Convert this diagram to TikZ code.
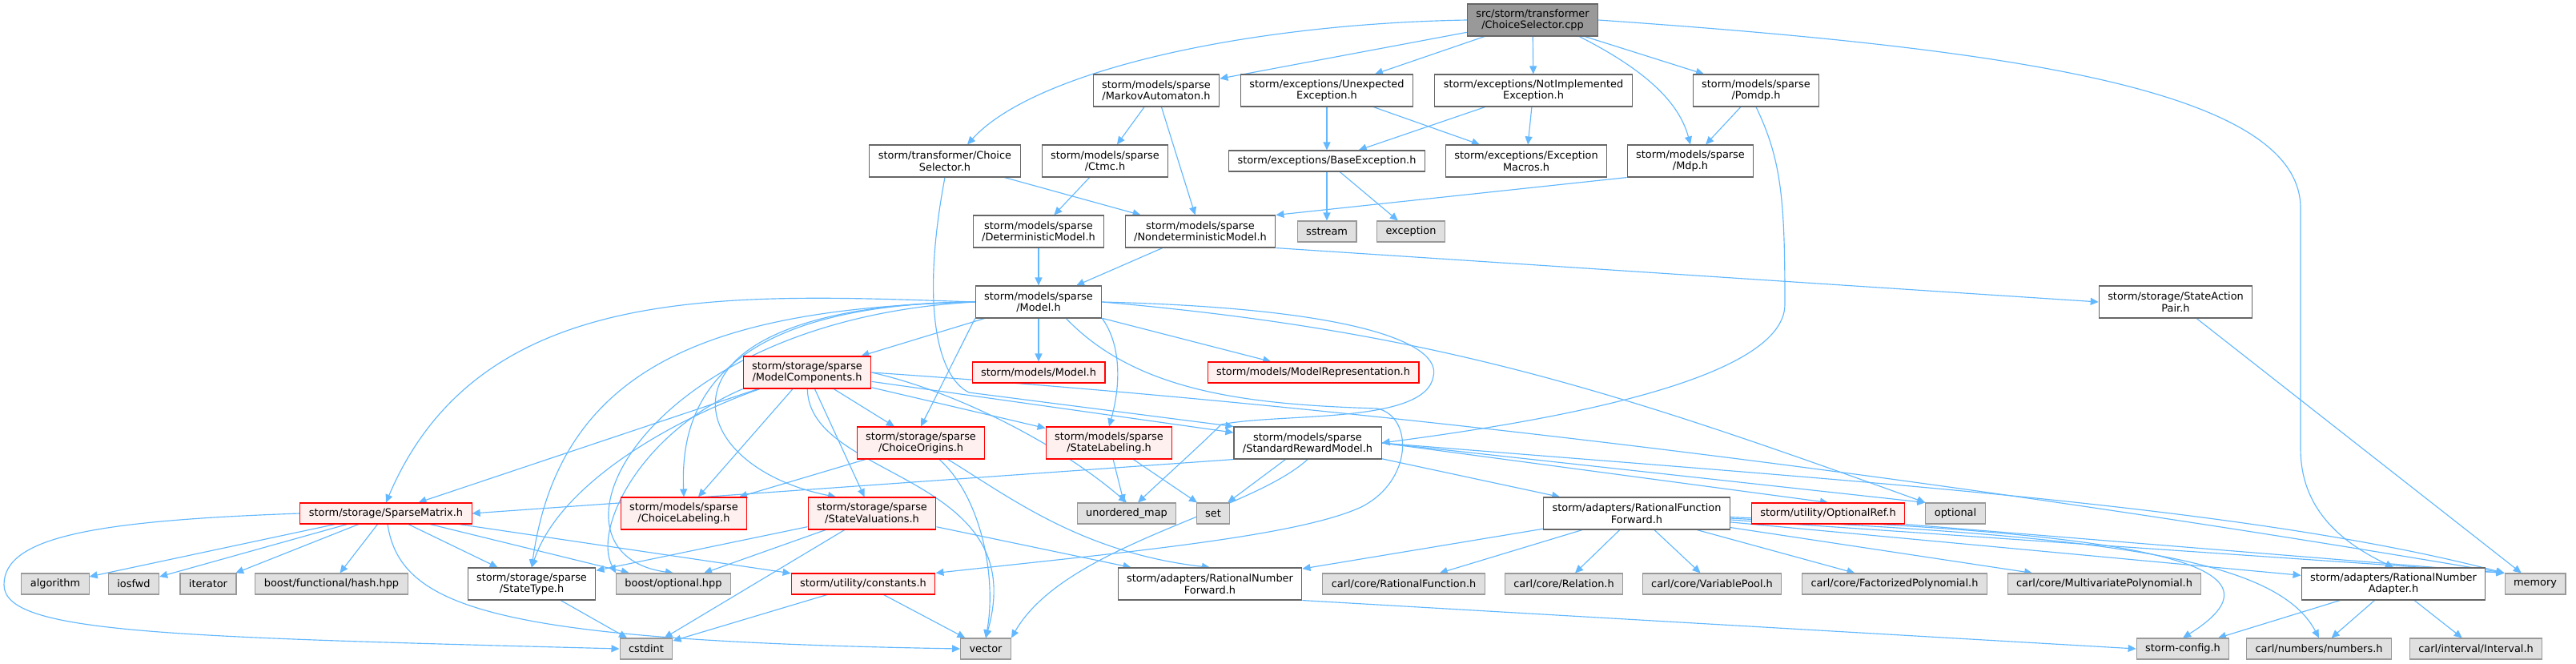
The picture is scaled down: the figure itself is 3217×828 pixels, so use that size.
\documentclass[tikz,border=0pt]{standalone}
\usepackage{fontspec}
\setmainfont{DejaVu Sans}
\usetikzlibrary{arrows.meta,backgrounds}
\definecolor{edgeblue}{HTML}{63B8FF}
\definecolor{boxgray}{HTML}{666666}
\definecolor{sysgray}{HTML}{999999}
\definecolor{sysfill}{HTML}{E0E0E0}
\definecolor{truncfill}{HTML}{FFF0F0}

\begin{document}
\begin{tikzpicture}
    [x=1pt, y=1pt,
    font=\fontsize{12.9}{14.4}\selectfont,
    file/.style={
        draw=boxgray,
        line width=1.1pt,
        fill=white,
        align=center,
        inner xsep=11pt,
        inner ysep=2pt,
        minimum height=26pt
    },
    twoline/.style={minimum height=40pt},
    trunc/.style={file, draw=red, fill=truncfill},
    sysfile/.style={file, draw=sysgray, fill=sysfill},
    rootfile/.style={file, twoline, fill=sysgray},
    line/.style={
        draw=edgeblue, line width=1.15pt, -{Triangle[length=10pt,width=9pt]}
    }
    ]
    \useasboundingbox (0,0) rectangle (3217,-828);

    % source file
    \node[rootfile] (root) at (1914,-25) {src/storm/transformer\\/ChoiceSelector.cpp};

    % project headers
    \node[file, twoline] (ma) at (1444,-113) {storm/models/sparse\\/MarkovAutomaton.h};
    \node[file, twoline] (unexp) at (1657,-113) {storm/exceptions/Unexpected\\Exception.h};
    \node[file, twoline] (notimpl) at (1915,-113) {storm/exceptions/NotImplemented\\Exception.h};
    \node[file, twoline] (pomdp) at (2193,-113) {storm/models/sparse\\/Pomdp.h};
    \node[file, twoline] (csh) at (1180,-201) {storm/transformer/Choice\\Selector.h};
    \node[file, twoline] (ctmc) at (1380,-201) {storm/models/sparse\\/Ctmc.h};
    \node[file] (baseexc) at (1657,-201) {storm/exceptions/BaseException.h};
    \node[file, twoline] (excmacros) at (1906,-201) {storm/exceptions/Exception\\Macros.h};
    \node[file, twoline] (mdp) at (2111,-201) {storm/models/sparse\\/Mdp.h};
    \node[file, twoline] (det) at (1297,-289) {storm/models/sparse\\/DeterministicModel.h};
    \node[file, twoline] (nondet) at (1499,-289) {storm/models/sparse\\/NondeterministicModel.h};
    \node[file, twoline] (model) at (1297,-377) {storm/models/sparse\\/Model.h};
    \node[file, twoline] (sap) at (2717,-377) {storm/storage/StateAction\\Pair.h};
    \node[trunc, twoline] (mcomp) at (1008,-465) {storm/storage/sparse\\/ModelComponents.h};
    \node[trunc] (modelh) at (1297,-465) {storm/models/Model.h};
    \node[trunc] (modelrep) at (1640,-465) {storm/models/ModelRepresentation.h};
    \node[trunc, twoline] (corig) at (1150,-553) {storm/storage/sparse\\/ChoiceOrigins.h};
    \node[trunc, twoline] (slab) at (1385,-553) {storm/models/sparse\\/StateLabeling.h};
    \node[file, twoline] (srm) at (1633,-553) {storm/models/sparse\\/StandardRewardModel.h};
    \node[trunc] (smat) at (482,-641) {storm/storage/SparseMatrix.h};
    \node[trunc, twoline] (clab) at (854,-641) {storm/models/sparse\\/ChoiceLabeling.h};
    \node[trunc, twoline] (sval) at (1089,-641) {storm/storage/sparse\\/StateValuations.h};
    \node[file, twoline] (rff) at (2044,-641) {storm/adapters/RationalFunction\\Forward.h};
    \node[trunc] (oref) at (2283,-641) {storm/utility/OptionalRef.h};
    \node[file, twoline] (stype) at (664,-729) {storm/storage/sparse\\/StateType.h};
    \node[trunc] (consts) at (1078,-729) {storm/utility/constants.h};
    \node[file, twoline] (rnf) at (1511,-729) {storm/adapters/RationalNumber\\Forward.h};
    \node[file, twoline] (rna) at (2989,-729) {storm/adapters/RationalNumber\\Adapter.h};

    % system and library headers
    \foreach \name/\x/\y/\txt in {sstream/1657/289/sstream, exception/1762/289/exception,
        umap/1407/641/unordered\_map, set/1515/641/set, optional/2442/641/optional,
        algorithm/69/729/algorithm, iosfwd/167/729/iosfwd, iterator/260/729/iterator,
        hash/414/729/{boost/functional/hash.hpp}, bopt/841/729/{boost/optional.hpp},
        crf/1753/729/{carl/core/RationalFunction.h}, crel/1953/729/{carl/core/Relation.h},
        cvp/2138/729/{carl/core/VariablePool.h}, cfp/2366/729/{carl/core/FactorizedPolynomial.h},
        cmp/2628/729/{carl/core/MultivariatePolynomial.h}, memory/3166/729/memory,
        cstdint/807/810/cstdint, vector/1231/810/vector, config/2726/810/{storm-config.h},
        numbers/2896/810/{carl/numbers/numbers.h}, interval/3092/810/{carl/interval/Interval.h}}{
        \node[sysfile] (\name) at (\x,-\y) {\txt};
    }

    \begin{scope}[on background layer]
    % straight includes
    \foreach \a/\b in {root/ma, root/unexp, root/notimpl, root/pomdp, ma/ctmc, ma/nondet,
        csh/nondet, unexp/baseexc, unexp/excmacros, notimpl/baseexc, notimpl/excmacros,
        pomdp/mdp, ctmc/det, det/model, nondet/model, baseexc/sstream, baseexc/exception,
        sap/memory, model/mcomp, model/modelh, model/modelrep, mcomp/smat, mcomp/clab,
        mcomp/sval, mcomp/corig, mcomp/slab, mcomp/srm, smat/algorithm, smat/iosfwd,
        smat/iterator, smat/hash, smat/stype, smat/bopt, smat/consts, stype/cstdint,
        consts/cstdint, consts/vector, sval/stype, sval/bopt, sval/cstdint, sval/rnf,
        corig/clab, slab/umap, slab/set, srm/set, srm/rff, rff/rnf, rff/crf,
        rff/crel, rff/cvp, rff/cfp, rff/cmp, rff/rna, rna/config, rna/numbers, rna/interval}{
        \path [line] (\a) -- (\b);
    }

    % from the source file
    \path [line] (root.west) .. controls (1550,-30) and (1290,-90) .. ([xshift=28pt]csh.north);
    \path [line] ([xshift=-24pt]root.south east) .. controls (2040,-80) and (2095,-120) .. (mdp.north);
    \path [line] (root.east) .. controls (2500,-60) and (2873,-110) .. (2873,-260)
        -- (2873,-560) .. controls (2873,-640) and (2930,-680) .. (rna.north);
    \path [line] (csh.south) .. controls (1150,-380) and (1170,-470) .. (1210,-490) -- (srm.north west);
    \path [line] (pomdp.south) .. controls (2225,-200) and (2229,-250) .. (2229,-380)
        .. controls (2229,-480) and (1900,-530) .. (srm.east);
    \path [line] (mdp.south west) -- (nondet.north east);
    \path [line] (nondet.south east) -- (sap.west);

    % Model.h
    \path [line] (model.west) .. controls (913,-367) and (601,-348) .. (smat.north);
    \path [line] (model.west) .. controls (880,-380) and (850,-520) .. (clab.north);
    \path [line] (model.west) .. controls (800,-380) and (840,-580) .. ([xshift=-45pt]sval.north);
    \path [line] (model.west) .. controls (900,-385) and (700,-450) .. (stype.north);
    \path [line] (model.west) .. controls (800,-400) and (660,-690) .. (bopt.north);
    \path [line] (model.south west) -- (corig.north);
    \path [line] (model.south east) .. controls (1400,-430) and (1400,-480) .. (slab.north);
    \path [line] (model.east) .. controls (1700,-385) and (1800,-430) .. (1790,-470)
        .. controls (1780,-530) and (1600,-515) .. (1525,-530)
        .. controls (1500,-555) and (1450,-600) .. ([xshift=14pt]umap.north);
    \path [line] ([xshift=-45pt]model.south east) .. controls (1420,-490) and (1560,-505) .. (1720,-510)
        .. controls (1765,-520) and (1765,-600) .. (1700,-633)
        .. controls (1620,-670) and (1400,-690) .. (consts.north east);
    \path [line] (model.east) .. controls (1788,-413) and (2015,-487) .. (optional.north west);

    % ModelComponents.h
    \path [line] (mcomp) .. controls (850,-520) and (700,-600) .. (stype.north);
    \path [line] (mcomp.south west) .. controls (800,-540) and (740,-660) .. (bopt.north west);
    \path [line] (mcomp) .. controls (1010,-600) and (1290,-590) .. (vector.north);
    \path [line] (mcomp.east) .. controls (1200,-490) and (1330,-560) .. (umap.north);
    \path [line] (mcomp.east) .. controls (1600,-500) and (2300,-575) .. (memory.north west);

    % lower levels
    \path [line] (smat.west) .. controls (120,-650) and (5,-670) .. (5,-730)
        .. controls (5,-790) and (200,-795) .. (cstdint.west);
    \path [line] (smat) .. controls (500,-760) and (620,-800) .. (vector.west);
    \path [line] (corig) .. controls (1225,-620) and (1245,-720) .. (vector.north);
    \path [line] (corig) .. controls (1260,-620) and (1350,-690) .. (rnf.north);
    \path [line] (srm.south west) -- (smat.east);
    \path [line] (srm.south) .. controls (1560,-640) and (1330,-680) .. (vector.north east);
    \path [line] (srm.east) -- (oref.north);
    \path [line] (srm.east) -- (optional.north west);
    \path [line] (srm.east) .. controls (2300,-600) and (2800,-630) .. (memory.north west);
    \path [line] (rnf.south east) -- (config.west);
    \path [line] (rff) -- (memory.north west);
    \path [line] (rff) .. controls (2600,-670) and (2840,-690) .. (numbers.north);
    \path [line] (rff) .. controls (2650,-665) and (2880,-700) .. (config.north);
    \path [line] (oref.south east) -- (memory.north west);
    \end{scope}
\end{tikzpicture}
\end{document}
